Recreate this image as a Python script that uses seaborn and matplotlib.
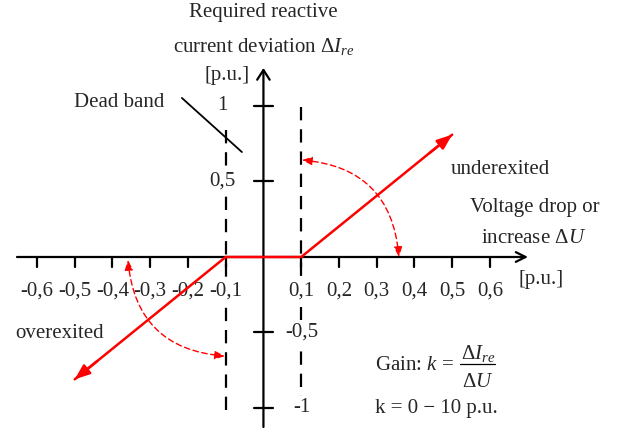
import matplotlib
matplotlib.use("Agg")
import matplotlib.pyplot as plt
import seaborn as sns
import pandas as pd

# Reactive current characteristic (dead band +/-0.1 p.u.)
char_u = [-0.5, -0.1, 0.1, 0.5]
char_i = [-0.81, 0.0, 0.0, 0.81]

# Axis ticks and labels
x_ticks = [-0.6, -0.5, -0.4, -0.3, -0.2, -0.1, 0.1, 0.2, 0.3, 0.4, 0.5, 0.6]
x_tick_labels = ["-0,6", "-0,5", "-0,4", "-0,3", "-0,2", "-0,1",
                 "0,1", "0,2", "0,3", "0,4", "0,5", "0,6"]
y_ticks = [1.0, 0.5, -0.5, -1.0]
y_tick_labels = ["1", "0,5", "-0,5", "-1"]

# Dead band limits
dead_band = [-0.1, 0.1]

sns.set_style("white")
plt.rcParams["font.family"] = ["Liberation Serif", "DejaVu Serif"]
plt.rcParams["mathtext.fontset"] = "custom"
plt.rcParams["mathtext.rm"] = "Liberation Serif"
plt.rcParams["mathtext.it"] = "Liberation Serif:italic"
plt.rcParams["mathtext.cal"] = "Liberation Serif"

FS = 15
RED = "#ff0000"
WHITE_BOX = dict(facecolor="white", edgecolor="none", pad=1.0)

fig = plt.figure(figsize=(6.25, 4.32), dpi=100)
ax = fig.add_axes([0, 0, 1, 1])
ax.set_xlim(-0.698, 0.958)
ax.set_ylim(-1.159, 1.702)
ax.axis("off")

# coordinate axes with open arrowheads
ax.annotate("", xy=(0.701, 0), xytext=(-0.653, 0),
            arrowprops=dict(arrowstyle="->,head_length=0.7,head_width=0.35",
                            lw=1.6, color="black", shrinkA=0, shrinkB=0))
ax.annotate("", xy=(0, 1.252), xytext=(0, -1.126),
            arrowprops=dict(arrowstyle="->,head_length=0.7,head_width=0.45",
                            lw=1.6, color="black", shrinkA=0, shrinkB=0))

# tick marks
for xt in x_ticks:
    ax.plot([xt, xt], [0, -0.066], color="black", lw=1.6, zorder=2)
for yt in y_ticks:
    ax.plot([-0.026, 0.026], [yt, yt], color="black", lw=1.6, zorder=2)

# dead band boundaries
ax.plot([dead_band[0]] * 2, [0.841, -1.066], color="black", lw=1.6,
        dashes=(6, 4), zorder=1)
ax.plot([dead_band[1]] * 2, [0.993, -1.07], color="black", lw=1.6,
        dashes=(6, 4), zorder=1)

# tick labels
for xt, lab in zip(x_ticks, x_tick_labels):
    ax.text(xt, -0.258, lab, fontsize=FS, ha="center", va="baseline", zorder=3,
            bbox=WHITE_BOX)
for yt, lab in zip(y_ticks, y_tick_labels):
    xpos = -0.11 if yt > 0 else 0.102
    ax.text(xpos, yt, lab, fontsize=FS, ha="center", va="center", zorder=3,
            bbox=dict(facecolor="white", edgecolor="none", pad=2.0))

# characteristic
df = pd.DataFrame({"u": char_u, "i": char_i})
sns.lineplot(data=df, x="u", y="i", sort=False, estimator=None, color=RED,
             lw=1.8, ax=ax, zorder=4)
for (x0, y0), (x1, y1) in [((char_u[1], char_i[1]), (char_u[0], char_i[0])),
                           ((char_u[2], char_i[2]), (char_u[3], char_i[3]))]:
    ax.annotate("", xy=(x1, y1), xytext=(x0 + 0.85 * (x1 - x0), y0 + 0.85 * (y1 - y0)),
                arrowprops=dict(arrowstyle="-|>,head_length=0.9,head_width=0.35",
                                lw=1.8, color=RED, shrinkA=0, shrinkB=0), zorder=5)

# gain arcs
arc_style = dict(arrowstyle="<|-|>,head_length=0.6,head_width=0.25", lw=1.0,
                 color=RED, linestyle=(0, (4, 2.5)), shrinkA=0, shrinkB=0)
ax.annotate("", xy=(0.359, 0.0), xytext=(0.102, 0.642),
            arrowprops=dict(connectionstyle="arc3,rad=-0.42", **arc_style), zorder=5)
ax.annotate("", xy=(-0.102, -0.656), xytext=(-0.359, -0.02),
            arrowprops=dict(connectionstyle="arc3,rad=0.42", **arc_style), zorder=5)

# dead band pointer
ax.plot([-0.216, -0.057], [1.053, 0.695], color="black", lw=1.3, zorder=3)
ax.text(-0.383, 0.993, "Dead band", fontsize=FS, ha="center", va="baseline")

# axis titles
ax.text(0, 1.589, "Required reactive", fontsize=FS, ha="center", va="baseline")
ax.text(0, 1.358, r"current deviation $\Delta I_{re}$", fontsize=FS,
        ha="center", va="baseline")
ax.text(-0.097, 1.205, "[p.u.]", fontsize=FS, ha="center", va="center")
ax.text(0.735, -0.152, "[p.u.]", fontsize=FS, ha="center", va="center")
ax.text(0.719, 0.298, "Voltage drop or", fontsize=FS, ha="center", va="baseline")
ax.text(0.716, 0.093, r"increase $\Delta U$", fontsize=FS, ha="center", va="baseline")

# regions
ax.text(0.629, 0.55, "underexited", fontsize=FS, ha="center", va="baseline")
ax.text(-0.539, -0.536, "overexited", fontsize=FS, ha="center", va="baseline")

# gain definition: k = dI_re / dU
ax.text(0.295, -0.748, r"Gain: $k$ =", fontsize=FS, ha="left", va="baseline")
ax.text(0.568, -0.675, r"$\Delta I_{re}$", fontsize=FS, ha="center", va="baseline")
ax.text(0.568, -0.861, r"$\Delta U$", fontsize=FS, ha="center", va="baseline")
ax.plot([0.52, 0.613], [-0.709, -0.709], color="black", lw=0.9)
ax.text(0.295, -1.033, "k = 0 \u2212 10 p.u.", fontsize=FS, ha="left", va="baseline")

fig.savefig("out.png", dpi=100)
